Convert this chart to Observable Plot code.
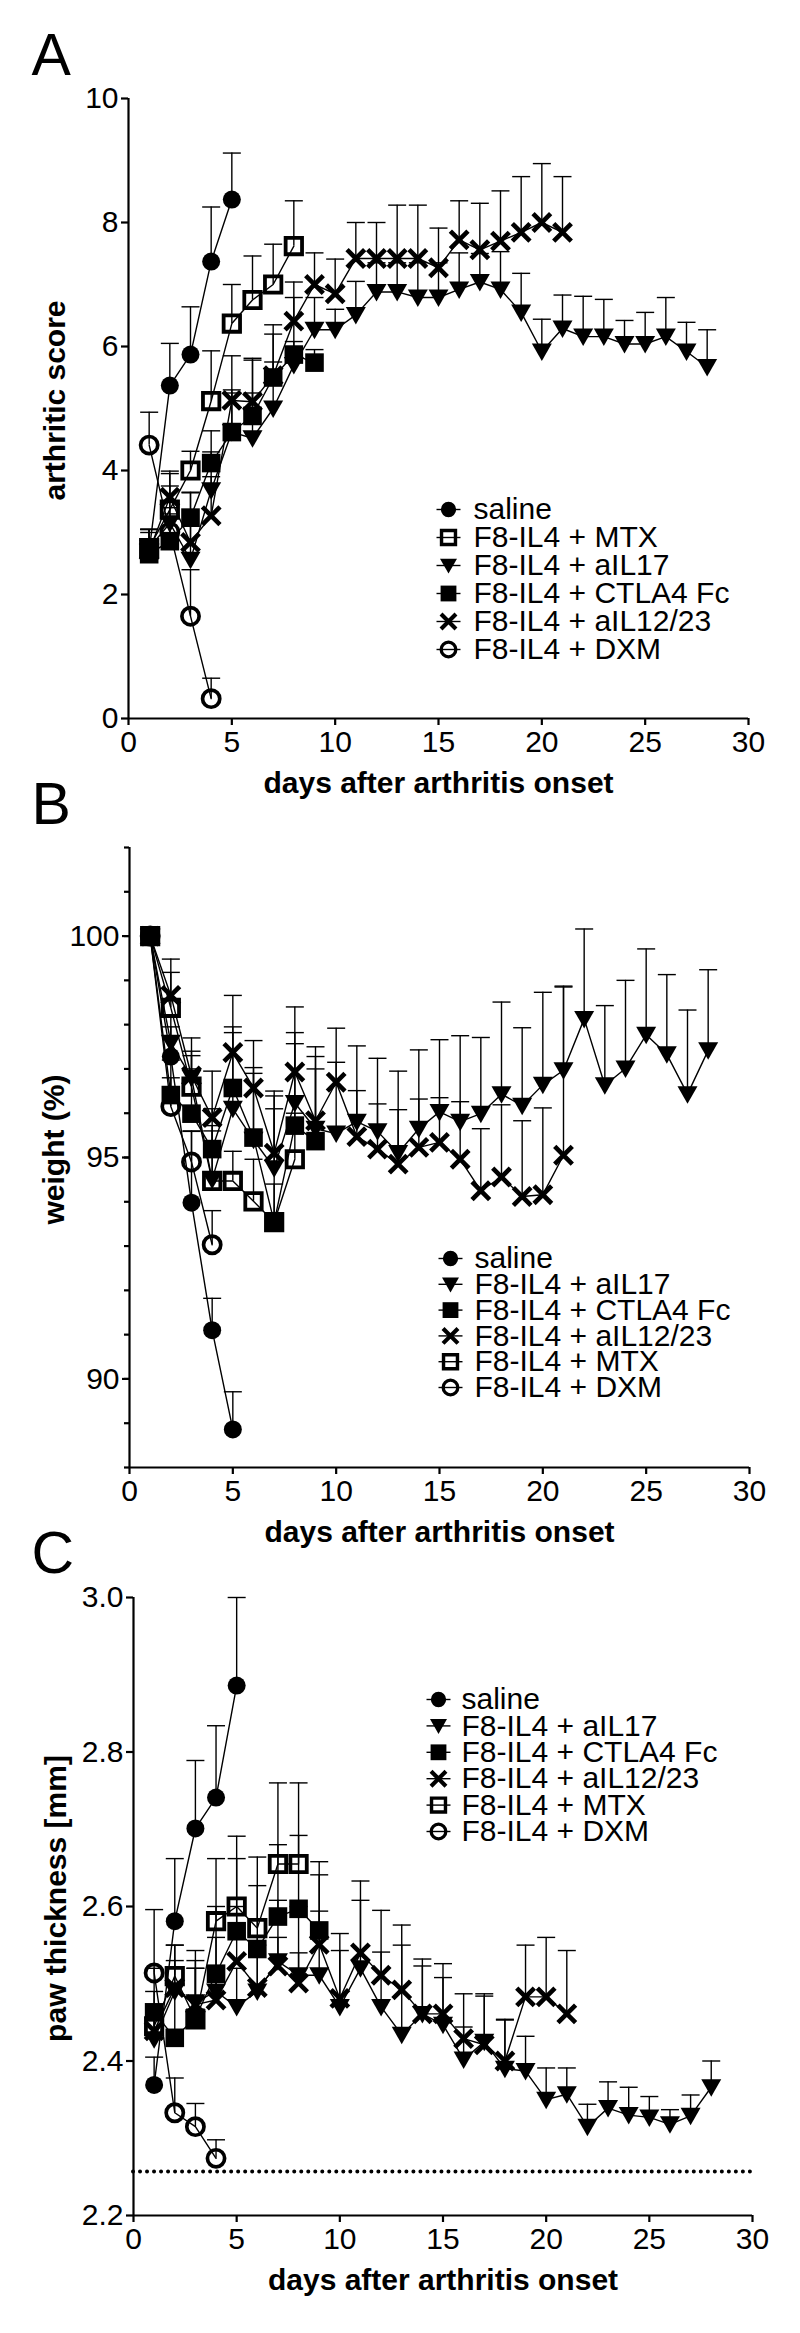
<!DOCTYPE html>
<html>
<head>
<meta charset="utf-8">
<script src="https://cdn.jsdelivr.net/npm/d3@7"></script>
<script src="https://cdn.jsdelivr.net/npm/@observablehq/plot@0.6"></script>
<style>
  html, body { margin: 0; padding: 0; background: #fff; }
  #chart { width: 800px; position: relative; }
  #chart svg { display: block; overflow: visible; }
</style>
</head>
<body>
<div id="chart"></div>
<script>
// ---------- shared ----------
const days = [1,2,3,4,5,6,7,8,9,10,11,12,13,14,15,16,17,18,19,20,21,22,23,24,25,26,27,28];
const xTicks = [0,5,10,15,20,25,30];
const xLabel = "days after arthritis onset";
const legendA = ["saline","F8-IL4 + MTX","F8-IL4 + aIL17","F8-IL4 + CTLA4 Fc","F8-IL4 + aIL12/23","F8-IL4 + DXM"];
const legendBC = ["saline","F8-IL4 + aIL17","F8-IL4 + CTLA4 Fc","F8-IL4 + aIL12/23","F8-IL4 + MTX","F8-IL4 + DXM"];

// ---------- Panel A: arthritic score (mean, mean+SEM) ----------
const scoreTicks = [0,2,4,6,8,10];
const scoreSaline    = [2.70,5.37,5.87,7.37,8.37];
const scoreSalineTop = [3.05,6.05,6.64,8.25,9.12];
const scoreMtx       = [2.75,3.37,4.00,5.12,6.37,6.75,7.00,7.62];
const scoreMtxTop    = [3.05,3.95,4.31,5.93,7.00,7.46,7.65,8.35];
const scoreIl17      = [2.75,3.15,2.56,3.68,4.62,4.52,5.00,5.70,6.27,6.27,6.51,6.88,6.88,6.79,6.79,6.92,7.04,6.92,6.55,5.92,6.29,6.16,6.16,6.04,6.04,6.16,5.92,5.67];
const scoreIl17Top   = [3.00,3.75,3.10,4.30,5.30,5.25,5.75,6.79,6.79,6.60,7.05,7.35,7.35,7.35,7.35,7.51,7.50,7.53,7.18,6.44,6.83,6.81,6.76,6.42,6.55,6.79,6.39,6.27];
const scoreCtla4     = [2.65,2.86,3.24,4.12,4.62,4.88,5.50,5.87,5.74];
const scoreCtla4Top  = [3.05,3.30,3.64,4.64,5.25,5.78,6.20,6.08,5.95];
const scoreIl1223    = [2.70,3.57,2.84,3.27,5.13,5.11,5.53,6.41,7.00,6.85,7.42,7.42,7.42,7.42,7.27,7.72,7.56,7.70,7.84,8.00,7.84];
const scoreIl1223Top = [3.05,3.99,3.65,3.90,5.85,5.81,6.35,7.04,7.51,7.41,8.00,8.00,8.28,8.28,7.91,8.35,8.31,8.51,8.74,8.95,8.74];
const scoreDxm       = [4.41,3.01,1.65,0.32];
const scoreDxmTop    = [4.94,3.40,2.40,0.65];

// ---------- Panel B: weight (%) ----------
const weightTicks = [90,95,100];
const weightMinorTicks = [88,89,90,91,92,93,94,95,96,97,98,99,100,101,102];
const weightSaline    = [100,97.28,93.98,91.10,88.86];
const weightSalineTop = [null,97.95,95.59,91.82,89.71];
const weightIl17      = [100,97.59,96.80,94.50,96.10,95.40,94.76,96.23,95.65,95.54,95.81,95.59,95.10,95.65,96.03,95.81,95.99,96.43,96.17,96.64,96.97,98.13,96.63,97.01,97.77,97.33,96.43,97.42];
const weightIl17Top   = [null,98.20,97.30,95.60,97.82,96.90,96.10,97.57,97.00,97.15,97.52,97.24,96.95,97.43,97.66,97.75,97.71,98.51,97.93,98.73,98.87,100.16,98.43,99.00,99.71,99.13,98.33,99.24];
const weightCtla4     = [100,96.41,95.99,95.19,96.57,95.45,93.54,95.72,95.37];
const weightCtla4Top  = [null,97.20,97.00,96.10,97.95,97.03,96.39,97.82,97.28];
const weightIl1223    = [100,98.66,96.84,95.90,97.37,96.57,95.10,96.93,95.83,96.70,95.47,95.19,94.85,95.23,95.34,94.96,94.25,94.56,94.12,94.16,95.05];
const weightIl1223Top = [null,99.48,97.70,96.95,98.66,97.64,96.50,98.40,97.50,97.92,96.51,96.21,96.08,96.32,96.35,96.26,95.65,96.19,95.83,96.12,98.85];
const weightMtx       = [100,98.38,96.60,94.47,94.47,94.01,93.54,94.96];
const weightMtxTop    = [null,99.18,97.40,95.72,95.14,94.96,94.40,96.00];
const weightDxm       = [100,96.15,94.90,93.03];
const weightDxmTop    = [null,96.80,95.60,93.80];

// ---------- Panel C: paw thickness [mm] ----------
const pawTicks = [2.2,2.4,2.6,2.8,3.0];
const pawBaseline = [2.257];
const pawSaline    = [2.369,2.581,2.701,2.741,2.886];
const pawSalineTop = [2.405,2.662,2.789,2.834,3.000];
const pawIl17      = [2.428,2.490,2.476,2.490,2.470,2.490,2.529,2.511,2.511,2.470,2.520,2.470,2.434,2.461,2.447,2.402,2.425,2.390,2.387,2.350,2.357,2.315,2.339,2.330,2.327,2.318,2.329,2.366];
const pawIl17Top   = [2.460,2.550,2.520,2.560,2.520,2.560,2.608,2.600,2.594,2.565,2.633,2.595,2.576,2.532,2.508,2.444,2.487,2.454,2.432,2.391,2.391,2.344,2.373,2.366,2.354,2.337,2.356,2.400];
const pawCtla4     = [2.463,2.430,2.456,2.513,2.568,2.545,2.587,2.597,2.569];
const pawCtla4Top  = [2.520,2.500,2.543,2.600,2.662,2.627,2.680,2.692,2.658];
const pawIl1223    = [2.439,2.495,2.473,2.479,2.529,2.495,2.523,2.501,2.551,2.481,2.540,2.511,2.492,2.461,2.461,2.429,2.421,2.400,2.483,2.483,2.461];
const pawIl1223Top = [2.470,2.530,2.530,2.520,2.600,2.550,2.560,2.540,2.641,2.543,2.608,2.541,2.550,2.523,2.526,2.487,2.484,2.453,2.550,2.560,2.543];
const pawMtx       = [2.445,2.510,2.454,2.581,2.600,2.572,2.655,2.655];
const pawMtxTop    = [2.490,2.550,2.520,2.662,2.691,2.664,2.760,2.760];
const pawDxm       = [2.514,2.333,2.315,2.274];
const pawDxmTop    = [2.596,2.378,2.345,2.298];

// ---------- symbols ----------
const rad = (size) => Math.sqrt(size / Math.PI);
const circleSym = {draw(c, s) { const r = rad(s); c.moveTo(r, 0); c.arc(0, 0, r, 0, 2 * Math.PI); }};
const squareSym = {draw(c, s) { const r = rad(s); c.rect(-r, -r, 2 * r, 2 * r); }};
const triDownSym = {draw(c, s) { const r = rad(s); c.moveTo(-r, -0.8 * r); c.lineTo(r, -0.8 * r); c.lineTo(0, 0.95 * r); c.closePath(); }};
const timesSym = {draw(c, s) { const r = rad(s); c.moveTo(-r, -r); c.lineTo(r, r); c.moveTo(-r, r); c.lineTo(r, -r); }};
const hbarSym = {draw(c, s) { const r = rad(s); c.moveTo(-r, 0); c.lineTo(r, 0); }};

const symbolStyle = {
  "saline":            {symbol: circleSym,  r: 9.0, fill: "black", stroke: "none",  strokeWidth: 0},
  "F8-IL4 + MTX":      {symbol: squareSym,  r: 8.2, fill: "none",  stroke: "black", strokeWidth: 3.8},
  "F8-IL4 + aIL17":    {symbol: triDownSym, r: 10,  fill: "black", stroke: "none",  strokeWidth: 0},
  "F8-IL4 + CTLA4 Fc": {symbol: squareSym,  r: 9.3, fill: "black", stroke: "none",  strokeWidth: 0},
  "F8-IL4 + aIL12/23": {symbol: timesSym,   r: 8.8, fill: "none",  stroke: "black", strokeWidth: 4.6},
  "F8-IL4 + DXM":      {symbol: circleSym,  r: 8.6, fill: "none",  stroke: "black", strokeWidth: 3.7}
};

function rowsOf(name, means, tops) {
  return means.map((m, i) => ({name, day: days[i], mean: m, top: tops[i]}));
}

const FONT = "'Liberation Sans', Arial, Helvetica, sans-serif";

function panel(cfg) {
  const {series, legend, yDomain, yTicks, yMinor, yFormat, yLabel, yLabelDx, letter,
         height, marginTop, marginBottom, marginLeft, marginRight,
         legendX, legendTextX, legendY, legendRow, extra = []} = cfg;
  const rows = series.flat();
  const withTop = rows.filter(d => d.top != null && d.top > d.mean);
  const marks = [];
  // error bars (upper SEM)
  marks.push(Plot.ruleX(withTop, {x: "day", y1: "mean", y2: "top", stroke: "black", strokeWidth: 1.4}));
  marks.push(Plot.dot(withTop, {x: "day", y: "top", symbol: hbarSym, r: 9, fill: "none", stroke: "black", strokeWidth: 1.4}));
  extra.forEach(m => marks.push(m));
  // connecting lines
  marks.push(Plot.line(rows, {x: "day", y: "mean", z: "name", stroke: "black", strokeWidth: 1.4}));
  // symbols
  series.forEach(s => {
    const st = symbolStyle[s[0].name];
    marks.push(Plot.dot(s, {x: "day", y: "mean", ...st}));
  });
  // axes
  marks.push(Plot.ruleX([0], {stroke: "black", strokeWidth: 2.2}));
  marks.push(Plot.ruleY([yDomain[0]], {stroke: "black", strokeWidth: 2.2}));
  marks.push(Plot.axisX({ticks: xTicks, tickSize: 7, tickPadding: 5, strokeWidth: 2.2, fontSize: 30, label: null, tickFormat: d3.format("d")}));
  if (yMinor) marks.push(Plot.axisY({ticks: yMinor, tickSize: 5, tickPadding: 0, strokeWidth: 2.2, label: null, tickFormat: () => ""}));
  marks.push(Plot.axisY({ticks: yTicks, tickSize: 7, tickPadding: 3, strokeWidth: 2.2, fontSize: 30, label: null, tickFormat: yFormat}));
  // axis titles
  marks.push(Plot.text([xLabel], {text: d => d, frameAnchor: "bottom", dy: 74, lineAnchor: "bottom", fontWeight: "bold", fontSize: 30, fill: "black"}));
  marks.push(Plot.text([yLabel], {text: d => d, frameAnchor: "left", dx: yLabelDx, dy: -8, rotate: -90, lineAnchor: "bottom", textAnchor: "middle", fontWeight: "bold", fontSize: 30, fill: "black"}));
  // panel letter
  marks.push(Plot.text([letter.text], {text: d => d, frameAnchor: "top-left", dx: 31 - marginLeft, dy: letter.baseline - marginTop, lineAnchor: "bottom", textAnchor: "start", fontSize: 59, fill: "black"}));
  // legend
  legend.forEach((name, i) => {
    const st = symbolStyle[name];
    const dy = legendY + i * legendRow - marginTop;
    marks.push(Plot.dot([name], {frameAnchor: "top-left", dx: legendX - marginLeft, dy, symbol: hbarSym, r: 12, fill: "none", stroke: "black", strokeWidth: 1.4}));
    marks.push(Plot.dot([name], {frameAnchor: "top-left", dx: legendX - marginLeft, dy, ...st, r: st.r * 0.85, strokeWidth: st.strokeWidth * 0.9}));
    marks.push(Plot.text([name], {text: d => d, frameAnchor: "top-left", dx: legendTextX - marginLeft, dy, textAnchor: "start", lineAnchor: "middle", fontSize: 30, fill: "black"}));
  });
  return Plot.plot({
    width: 800, height, marginTop, marginBottom, marginLeft, marginRight,
    x: {type: "linear", domain: [0, 30]},
    y: {type: "linear", domain: yDomain},
    style: {fontFamily: FONT, fontSize: "30px", color: "black", background: "transparent", overflow: "visible"},
    marks
  });
}

const chart = document.getElementById("chart");

chart.appendChild(panel({
  series: [
    rowsOf("saline", scoreSaline, scoreSalineTop),
    rowsOf("F8-IL4 + MTX", scoreMtx, scoreMtxTop),
    rowsOf("F8-IL4 + aIL17", scoreIl17, scoreIl17Top),
    rowsOf("F8-IL4 + CTLA4 Fc", scoreCtla4, scoreCtla4Top),
    rowsOf("F8-IL4 + aIL12/23", scoreIl1223, scoreIl1223Top),
    rowsOf("F8-IL4 + DXM", scoreDxm, scoreDxmTop)
  ],
  legend: legendA, yDomain: [0, 10], yTicks: scoreTicks, yFormat: d3.format("d"),
  yLabel: "arthritic score", yLabelDx: -64, letter: {text: "A", baseline: 74},
  height: 800, marginTop: 98, marginBottom: 82, marginLeft: 128, marginRight: 52,
  legendX: 448, legendTextX: 473, legendY: 509, legendRow: 28
}));

chart.appendChild(panel({
  series: [
    rowsOf("saline", weightSaline, weightSalineTop),
    rowsOf("F8-IL4 + aIL17", weightIl17, weightIl17Top),
    rowsOf("F8-IL4 + CTLA4 Fc", weightCtla4, weightCtla4Top),
    rowsOf("F8-IL4 + aIL12/23", weightIl1223, weightIl1223Top),
    rowsOf("F8-IL4 + MTX", weightMtx, weightMtxTop),
    rowsOf("F8-IL4 + DXM", weightDxm, weightDxmTop)
  ],
  legend: legendBC, yDomain: [88, 102], yTicks: weightTicks, yMinor: weightMinorTicks, yFormat: d3.format("d"),
  yLabel: "weight (%)", yLabelDx: -66, letter: {text: "B", baseline: 23},
  height: 745, marginTop: 47, marginBottom: 78, marginLeft: 129, marginRight: 51,
  legendX: 450, legendTextX: 474, legendY: 1258 - 800, legendRow: 25.8
}));

chart.appendChild(panel({
  series: [
    rowsOf("saline", pawSaline, pawSalineTop),
    rowsOf("F8-IL4 + aIL17", pawIl17, pawIl17Top),
    rowsOf("F8-IL4 + CTLA4 Fc", pawCtla4, pawCtla4Top),
    rowsOf("F8-IL4 + aIL12/23", pawIl1223, pawIl1223Top),
    rowsOf("F8-IL4 + MTX", pawMtx, pawMtxTop),
    rowsOf("F8-IL4 + DXM", pawDxm, pawDxmTop)
  ],
  legend: legendBC, yDomain: [2.2, 3.0], yTicks: pawTicks, yFormat: d3.format(".1f"),
  yLabel: "paw thickness [mm]", yLabelDx: -68, letter: {text: "C", baseline: 1572 - 1545},
  height: 788, marginTop: 52, marginBottom: 118, marginLeft: 133, marginRight: 48,
  legendX: 438, legendTextX: 461, legendY: 1699 - 1545, legendRow: 26.4,
  extra: [Plot.ruleY(pawBaseline, {stroke: "black", strokeWidth: 4, strokeDasharray: "0.01,7", strokeLinecap: "round"})]
}));
</script>
</body>
</html>
